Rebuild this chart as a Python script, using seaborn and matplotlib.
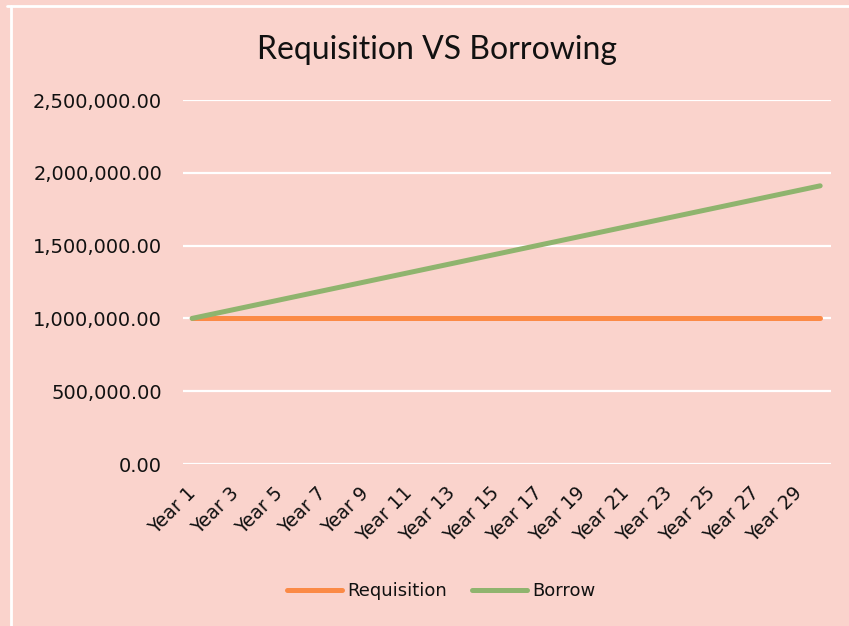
import matplotlib
matplotlib.use("Agg")
import matplotlib.pyplot as plt
import matplotlib.transforms as mtransforms
import seaborn as sns
import pandas as pd
from matplotlib.lines import Line2D

years = [f"Year {i}" for i in range(1, 31)]
requisition = [1000000] * 30
borrow = [1000000, 1031400, 1062800, 1094200, 1125600, 1157000, 1188400, 1219800,
          1251200, 1282600, 1314000, 1345400, 1376800, 1408200, 1439600, 1471000,
          1502400, 1533800, 1565200, 1596600, 1628000, 1659400, 1690800, 1722200,
          1753600, 1785000, 1816400, 1847800, 1879200, 1910600]
series_names = ["Requisition", "Borrow"]
colors = ["#FB8A46", "#8FB46E"]
yticks = [0, 500000, 1000000, 1500000, 2000000, 2500000]

df = pd.DataFrame({
    "idx": list(range(30)) * 2,
    "value": requisition + borrow,
    "series": ["Requisition"] * 30 + ["Borrow"] * 30,
})

sns.set_theme(style="white")
plt.rcParams["font.family"] = ["DejaVu Sans"]

bg = "#FAD3CC"
txt = "#111111"
fig = plt.figure(figsize=(8.49, 6.26), dpi=100, facecolor=bg)
ax = fig.add_axes([183 / 849, 1 - 464 / 626, (831 - 183) / 849, (464 - 100) / 626])
ax.set_facecolor(bg)

sns.lineplot(data=df, x="idx", y="value", hue="series", hue_order=series_names,
             palette=colors, linewidth=3.6, ax=ax, legend=False,
             solid_capstyle="round")

ax.set_xlim(-0.42, 29.5)
ax.set_ylim(0, 2500000)
ax.set_yticks(yticks)
ax.set_yticklabels([f"{v:,.2f}" for v in yticks], fontsize=14, color=txt)
ax.yaxis.grid(True, color="white", linewidth=1.6)
ax.xaxis.grid(False)
ax.set_axisbelow(True)
for s in ax.spines.values():
    s.set_visible(False)
ax.tick_params(axis="y", length=0, pad=15)
ax.tick_params(axis="x", length=0, pad=14)
ax.set_xticks(list(range(0, 30, 2)))
ax.set_xticklabels(years[::2], rotation=45, ha="right", va="top",
                   rotation_mode="anchor", fontsize=13.5, color=txt)
offset = mtransforms.ScaledTranslation(-6 / 100, 0, fig.dpi_scale_trans)
for lab in ax.get_xticklabels():
    lab.set_transform(lab.get_transform() + offset)
ax.set_xlabel("")
ax.set_ylabel("")

fig.text(437 / 849, 1 - 59 / 626, "Requisition VS Borrowing", ha="center", va="baseline",
         fontsize=23, color=txt, family=["Lato", "DejaVu Sans"])

handles = [Line2D([0], [0], color=c, linewidth=3.6, solid_capstyle="round") for c in colors]
fig.legend(handles, series_names, loc="center", bbox_to_anchor=(441 / 849, 1 - 591 / 626),
           ncol=2, frameon=False, fontsize=13, handlelength=3.05, handletextpad=0.28,
           columnspacing=1.4, labelcolor=txt)

# white frame lines
fig.add_artist(Line2D([7 / 849, 1.0], [1 - 6 / 626, 1 - 6 / 626], color="white",
                      linewidth=2, transform=fig.transFigure))
fig.add_artist(Line2D([10.5 / 849, 10.5 / 849], [1 - 6 / 626, 0], color="white",
                      linewidth=2, transform=fig.transFigure))

fig.savefig("out.png", dpi=100, facecolor=bg)
